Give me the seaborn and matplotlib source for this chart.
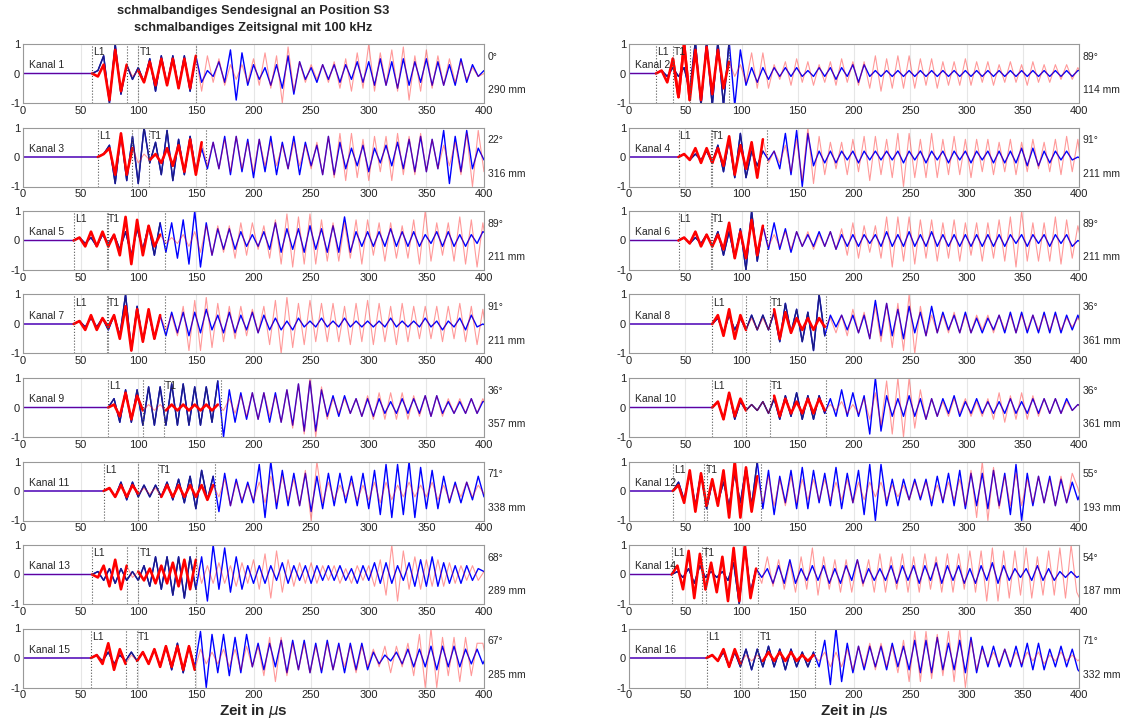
import numpy as np
import seaborn as sns
import matplotlib.pyplot as plt

# channel metadata (times in us)
channels = list(range(1, 17))
l1_times = [60, 24, 65, 44, 44, 44, 44, 74, 74, 74, 70, 39, 60, 38, 59, 69]
t1_times = [100, 39, 109, 73, 73, 73, 73, 125, 122, 125, 117, 67, 100, 65, 99, 115]
angles = ["0°", "89°", "22°", "91°", "89°", "89°", "91°", "36°",
          "36°", "36°", "71°", "55°", "68°", "54°", "67°", "71°"]
distances = ["290 mm", "114 mm", "316 mm", "211 mm", "211 mm", "211 mm", "211 mm", "361 mm",
             "357 mm", "361 mm", "338 mm", "193 mm", "289 mm", "187 mm", "285 mm", "332 mm"]

# peak values, one every 5 us starting at L1 (blue = received, red = reference)
blue_01 = [0, 0.1, 0.6, -1.0, 1.0, -0.7, 0.3, -0.2, 0.2, -0.3,
           0.5, -0.6, 0.6, -0.4, 0.6, -0.5, 0.6, -0.6, 0.6, -0.3,
           0.1, -0.1, 0.4, -0.3, 0.8, -0.9, 0.7, -0.4, 0.3, -0.2,
           0.2, -0.4, 0.3, -0.5, 0.6, -0.7, 0.4, -0.2, 0.2, -0.3,
           0.3, -0.2, 0.3, -0.3, 0.3, -0.2, 0.4, -0.3, 0.4, -0.4,
           0.5, -0.4, 0.4, -0.5, 0.5, -0.4, 0.4, -0.3, 0.5, -0.4,
           0.4, -0.4, 0.3, -0.4, 0.5, -0.3, 0.3, -0.1, 0.1]
red_01 = [0, -0.1, 0.3, -0.9, 0.8, -0.6, 0.3, -0.1, 0.1, -0.3,
          0.4, -0.4, 0.5, -0.4, 0.5, -0.5, 0.5, -0.5, 0.6, -0.6,
          0.6, -0.3, 0.5, -0.4, 0.3, -0.2, 0.3, -0.3, 0.5, -0.4,
          0.7, -0.5, 0.6, -1.0, 0.9, -0.6, 0.4, -0.3, 0.3, -0.2,
          0.3, -0.3, 0.4, -0.5, 0.5, -0.6, 0.7, -0.5, 1.0, -0.6,
          0.7, -0.4, 0.8, -0.6, 0.9, -0.9, 0.6, -0.6, 0.8, -0.5,
          0.6, -0.4, 0.5, -0.3, 0.4, -0.2, 0.2, -0.1, 0.0]

blue_02 = [0, 0.1, -0.1, 0.2, -0.1, 0.2, -0.6, 1.1, -1.1, 1.1,
           -1.1, 1.1, -1.1, 1.1, -1.1, 0.8, -0.4, 0.2, -0.3, 0.2,
           -0.2, 0.2, -0.1, 0.2, -0.1, 0.2, -0.1, 0.1, -0.1, 0.2,
           -0.1, 0.2, -0.2, 0.2, -0.1, 0.3, -0.3, 0.3, -0.1, 0.1,
           -0.1, 0.1, -0.1, 0.1, -0.1, 0.1, -0.1, 0.1, -0.1, 0.1,
           -0.1, 0.1, -0.1, 0.1, -0.1, 0.1, -0.1, 0.1, -0.1, 0.1,
           -0.1, 0.1, -0.1, 0.1, -0.1, 0.1, -0.1, 0.1, -0.1, 0.1,
           -0.1, 0.1, -0.1, 0.1, -0.1, 0.1, 0.1]
red_02 = [0, 0.1, -0.3, 0.5, -0.8, 1.0, -0.9, 0.8, -0.9, 0.9,
          -0.7, 0.8, -0.5, 0.4, -0.1, 0.3, -0.3, 0.7, -0.5, 0.7,
          -0.5, 0.3, -0.2, 0.4, -0.4, 0.5, -0.3, 0.4, -0.4, 0.3,
          -0.3, 0.4, -0.4, 0.5, -0.3, 0.4, -0.4, 0.4, -0.5, 0.6,
          -0.6, 0.5, -0.5, 0.6, -0.5, 0.6, -0.5, 0.5, -0.4, 0.5,
          -0.5, 0.4, -0.4, 0.4, -0.4, 0.5, -0.4, 0.4, -0.3, 0.4,
          -0.4, 0.3, -0.3, 0.4, -0.3, 0.3, -0.4, 0.4, -0.3, 0.3,
          -0.3, 0.3, -0.2, 0.3, -0.2, 0.2, -0.2]

blue_03 = [0, 0.1, 0.4, -0.9, 0.8, -0.8, 0.7, -0.9, 1.0, -0.2,
           0.5, -0.6, 0.9, -0.8, 0.6, -0.6, 0.7, -0.5, 0.3, -0.4,
           0.5, -0.4, 0.7, -0.6, 0.7, -0.5, 0.6, -0.7, 0.6, -0.5,
           0.7, -0.6, 0.5, -0.4, 0.7, -0.6, 0.5, -0.3, 0.4, -0.6,
           0.7, -0.6, 0.5, -0.4, 0.3, -0.3, 0.4, -0.5, 0.3, -0.2,
           0.4, -0.3, 0.5, -0.4, 0.6, -0.5, 0.7, -0.5, 0.6, -0.4,
           0.9, -0.9, 0.7, -0.5, 0.9, -0.4, 0.3, -0.1]
red_03 = [0, 0.1, 0.3, -0.6, 0.8, -0.6, 0.3, -0.2, 0.1, -0.1,
          0.1, -0.2, 0.3, -0.3, 0.4, -0.5, 0.6, -0.6, 0.5, -0.3,
          0.5, -0.4, 0.6, -0.5, 0.7, -0.4, 0.5, -0.5, 0.6, -0.3,
          0.5, -0.3, 0.4, -0.4, 0.5, -0.3, 0.4, -0.4, 0.5, -0.6,
          0.7, -0.7, 0.8, -0.8, 0.8, -0.7, 0.6, -0.8, 0.7, -0.5,
          0.7, -0.8, 0.8, -0.6, 0.7, -0.6, 0.8, -0.5, 0.6, -0.4,
          0.4, -0.3, 0.5, -0.6, 0.8, -1.0, 0.9, -0.5]

blue_04 = [0, 0.1, -0.1, 0.1, -0.1, 0.2, -0.2, 0.4, -0.5, 0.6,
           -0.7, 0.8, -0.7, 0.2, -0.3, 0.2, -0.1, 0.2, -0.4, 0.8,
           -0.6, 0.9, -1.0, 0.8, -0.3, 0.2, -0.2, 0.2, -0.2, 0.2,
           -0.1, 0.2, -0.2, 0.2, -0.1, 0.2, -0.1, 0.2, -0.1, 0.2,
           -0.2, 0.2, -0.1, 0.2, -0.2, 0.2, -0.1, 0.2, -0.2, 0.2,
           -0.1, 0.2, -0.2, 0.2, -0.1, 0.2, -0.2, 0.2, -0.2, 0.2,
           -0.2, 0.3, -0.3, 0.3, -0.3, 0.2, -0.2, 0.2, -0.1, 0.2,
           -0.1, 0.0, -0.1]
red_04 = [0, 0.1, -0.1, 0.3, -0.2, 0.3, -0.2, 0.3, -0.3, 0.7,
          -0.6, 0.4, -0.4, 0.5, -0.7, 0.6, -0.2, 0.2, -0.2, 0.4,
          -0.5, 0.6, -0.8, 1.0, -0.9, 0.7, -0.6, 0.5, -0.4, 0.5,
          -0.6, 0.6, -0.5, 0.7, -0.8, 0.7, -0.6, 0.6, -0.7, 0.8,
          -1.0, 0.8, -0.7, 0.6, -0.7, 0.8, -0.7, 0.6, -0.6, 0.7,
          -0.6, 0.6, -0.7, 0.6, -0.5, 0.6, -0.6, 0.5, -0.5, 0.6,
          -0.6, 0.5, -0.5, 0.6, -0.4, 0.5, -0.5, 0.6, -0.6, 0.7,
          -0.5, 0.6, -1.0]

blue_05 = [0, 0.1, -0.1, 0.1, -0.2, 0.2, -0.1, 0.2, -0.3, 0.3,
           -0.5, 0.4, -0.3, 0.5, -0.5, 0.6, -0.4, 0.6, -0.6, 0.7,
           -0.8, 1.0, -0.9, 0.6, -0.5, 0.4, -0.3, 0.4, -0.3, 0.3,
           -0.2, 0.2, -0.2, 0.3, -0.3, 0.6, -0.4, 0.4, -0.3, 0.4,
           -0.4, 0.5, -0.3, 0.4, -0.4, 0.5, -0.4, 0.8, -0.4, 0.3,
           -0.2, 0.3, -0.2, 0.3, -0.2, 0.4, -0.2, 0.3, -0.2, 0.3,
           -0.2, 0.2, -0.1, 0.3, -0.2, 0.3, -0.2, 0.2, -0.2, 0.2,
           -0.1, 0.3, 0.2]
red_05 = [0, 0.1, -0.2, 0.3, -0.2, 0.3, -0.2, 0.2, -0.5, 0.8,
          -0.8, 0.7, -0.5, 0.5, -0.2, 0.2, -0.1, 0.1, -0.1, 0.2,
          -0.2, 0.3, -0.4, 0.5, -0.5, 0.5, -0.4, 0.5, -0.6, 0.6,
          -0.5, 0.6, -0.3, 0.5, -0.6, 0.7, -0.8, 0.9, -0.9, 0.8,
          -0.8, 0.9, -0.8, 0.7, -0.7, 0.6, -0.7, 0.6, -0.6, 0.7,
          -0.8, 0.7, -0.5, 0.6, -0.7, 0.6, -0.6, 0.5, -0.6, 0.7,
          -0.8, 1.0, -0.7, 0.6, -0.5, 0.6, -0.7, 0.8, -0.8, 0.7,
          -0.9, 0.6, -0.6]

blue_06 = [0, 0.1, -0.1, 0.1, -0.1, 0.2, -0.2, 0.3, -0.5, 0.3,
           -0.6, 0.4, -1.0, 1.0, -0.7, 0.5, -0.3, 0.6, -0.3, 0.4,
           -0.4, 0.3, -0.2, 0.2, -0.2, 0.3, -0.2, 0.3, -0.3, 0.2,
           -0.2, 0.2, -0.2, 0.2, -0.1, 0.2, -0.2, 0.3, -0.2, 0.2,
           -0.2, 0.3, -0.2, 0.2, -0.2, 0.3, -0.2, 0.2, -0.2, 0.2,
           -0.2, 0.2, -0.2, 0.2, -0.2, 0.2, -0.2, 0.2, -0.2, 0.2,
           -0.1, 0.2, -0.2, 0.2, -0.1, 0.2, -0.2, 0.2, -0.1, 0.2,
           -0.2, 0.0, -0.1]
red_06 = [0, 0.1, -0.1, 0.3, -0.2, 0.2, -0.2, 0.2, -0.3, 0.6,
          -0.6, 0.3, -0.6, 0.7, -0.5, 0.5, -0.2, 0.2, -0.2, 0.3,
          -0.3, 0.3, -0.2, 0.3, -0.3, 0.2, -0.2, 0.3, -0.3, 0.4,
          -0.5, 0.6, -0.6, 0.5, -0.4, 0.5, -0.6, 0.8, -0.9, 0.8,
          -0.7, 0.8, -0.8, 0.7, -0.6, 0.7, -0.7, 0.6, -0.6, 0.7,
          -0.7, 0.6, -0.5, 0.6, -0.7, 0.6, -0.6, 0.7, -0.7, 0.8,
          -0.9, 1.0, -0.7, 0.6, -0.7, 0.6, -0.7, 0.8, -0.8, 0.7,
          -0.6, 0.5, -0.4]

blue_07 = [0, 0.1, -0.1, 0.2, -0.1, 0.2, -0.2, 0.3, -0.4, 1.0,
           -0.9, 0.6, -0.6, 0.4, -0.5, 0.3, -0.4, 0.4, -0.3, 0.4,
           -0.4, 0.4, -0.3, 0.5, -0.2, 0.3, -0.3, 0.4, -0.3, 0.3,
           -0.2, 0.4, -0.3, 0.3, -0.2, 0.2, -0.2, 0.1, -0.2, 0.2,
           -0.1, 0.1, -0.1, 0.2, -0.1, 0.1, -0.1, 0.2, -0.1, 0.1,
           -0.1, 0.1, -0.1, 0.1, -0.1, 0.2, -0.1, 0.1, -0.1, 0.1,
           -0.1, 0.2, -0.1, 0.1, -0.2, 0.1, -0.1, 0.2, -0.2, 0.3,
           -0.1, 0.0, -0.1]
red_07 = [0, 0.1, -0.2, 0.3, -0.2, 0.2, -0.1, 0.3, -0.5, 0.6,
          -0.9, 0.5, -0.6, 0.5, -0.5, 0.3, -0.2, 0.3, -0.4, 0.6,
          -0.9, 0.8, -0.9, 0.9, -0.8, 0.7, -0.6, 0.6, -0.5, 0.6,
          -0.4, 0.5, -0.3, 0.6, -0.7, 0.8, -1.0, 0.9, -0.8, 0.7,
          -0.7, 0.8, -0.6, 0.7, -0.6, 0.7, -0.6, 0.6, -0.7, 0.7,
          -0.6, 0.8, -0.7, 0.7, -0.6, 0.6, -0.7, 0.7, -0.6, 0.6,
          -0.5, 0.6, -0.5, 0.6, -0.6, 0.6, -0.5, 0.7, -0.6, 0.6,
          -0.7, 0.5, -0.9]

blue_08 = [0, 0.2, -0.3, 0.3, -0.2, 0.2, -0.2, 0.3, -0.2, 0.3,
           -0.2, 0.4, -0.6, 0.7, -0.3, 0.5, -0.6, 0.4, -0.9, 1.0,
           -0.4, 0.3, -0.1, 0.3, -0.2, 0.3, -0.3, 0.3, -0.5, 0.8,
           -0.4, 0.7, -0.4, 0.5, -0.5, 0.6, -0.3, 0.4, -0.4, 0.6,
           -0.3, 0.4, -0.2, 0.3, -0.3, 0.4, -0.3, 0.2, -0.3, 0.2,
           -0.2, 0.3, -0.3, 0.4, -0.3, 0.4, -0.3, 0.3, -0.3, 0.4,
           -0.3, 0.4, -0.3, 0.3, -0.2, 0.3, -0.2]
red_08 = [0, 0.3, -0.4, 0.5, -0.5, 0.3, -0.2, 0.2, -0.2, 0.2,
          -0.2, 0.5, -0.5, 0.4, -0.3, 0.2, -0.2, 0.2, -0.2, 0.2,
          -0.1, 0.2, -0.3, 0.3, -0.4, 0.5, -0.3, 0.4, -0.5, 0.6,
          -0.6, 0.7, -0.8, 0.7, -0.9, 1.0, -1.0, 0.6, -0.4, 0.3,
          -0.3, 0.3, -0.3, 0.4, -0.3, 0.3, -0.3, 0.3, -0.2, 0.3,
          -0.3, 0.3, -0.2, 0.3, -0.3, 0.3, -0.2, 0.3, -0.2, 0.3,
          -0.2, 0.3, -0.2, 0.2, -0.1, 0.2, -0.1]

blue_09 = [0, 0.3, -0.5, 0.6, -0.5, 0.6, -0.6, 0.7, -0.6, 0.7,
           -0.6, 0.8, -0.6, 0.8, -0.6, 0.7, -0.6, 0.7, -0.5, 0.9,
           -1.0, 0.6, -0.5, 0.5, -0.4, 0.5, -0.4, 0.5, -0.5, 0.5,
           -0.5, 0.6, -0.6, 0.8, -0.8, 0.9, -0.8, 0.6, -0.3, 0.4,
           -0.3, 0.4, -0.2, 0.3, -0.3, 0.3, -0.3, 0.3, -0.2, 0.2,
           -0.2, 0.3, -0.2, 0.3, -0.2, 0.4, -0.3, 0.4, -0.2, 0.2,
           -0.2, 0.2, -0.2, 0.3, -0.2, 0.2, 0.2]
red_09 = [0, 0.1, -0.3, 0.5, -0.4, 0.4, -0.1, 0.1, -0.1, 0.1,
          -0.1, 0.1, -0.1, 0.1, -0.1, 0.1, -0.1, 0.1, -0.1, 0.1,
          -0.1, 0.3, -0.2, 0.4, -0.3, 0.5, -0.4, 0.5, -0.3, 0.4,
          -0.5, 0.6, -0.7, 0.8, -0.9, 1.0, -1.0, 0.7, -0.4, 0.3,
          -0.2, 0.3, -0.2, 0.3, -0.3, 0.4, -0.4, 0.5, -0.4, 0.5,
          -0.4, 0.5, -0.4, 0.4, -0.3, 0.4, -0.3, 0.4, -0.3, 0.3,
          -0.2, 0.3, -0.2, 0.3, -0.2, 0.3, -0.2]

blue_10 = [0, 0.2, -0.4, 0.5, -0.4, 0.2, -0.1, 0.1, -0.1, 0.2,
           -0.2, 0.3, -0.4, 0.4, -0.3, 0.5, -0.4, 0.4, -0.4, 0.4,
           -0.2, 0.3, -0.3, 0.6, -0.3, 0.5, -0.3, 0.4, -0.9, 1.0,
           -0.8, 0.4, -0.3, 0.3, -0.3, 0.4, -0.3, 0.3, -0.4, 0.3,
           -0.3, 0.3, -0.2, 0.4, -0.3, 0.2, -0.2, 0.3, -0.2, 0.2,
           -0.2, 0.2, -0.2, 0.3, -0.2, 0.2, -0.2, 0.3, -0.2, 0.3,
           -0.2, 0.3, -0.2, 0.3, -0.1, 0.1, 0.0]
red_10 = [0, 0.2, -0.4, 0.5, -0.3, 0.3, -0.1, 0.1, -0.1, 0.2,
          -0.2, 0.4, -0.3, 0.3, -0.2, 0.2, -0.2, 0.3, -0.2, 0.3,
          -0.1, 0.1, -0.1, 0.2, -0.2, 0.1, -0.2, 0.3, -0.4, 0.5,
          -0.6, 0.9, -0.9, 1.0, -1.0, 1.0, -0.7, 0.6, -0.4, 0.3,
          -0.3, 0.2, -0.3, 0.3, -0.2, 0.3, -0.3, 0.2, -0.3, 0.3,
          -0.4, 0.5, -0.5, 0.4, -0.4, 0.5, -0.4, 0.4, -0.3, 0.3,
          -0.2, 0.3, -0.2, 0.2, -0.1, 0.1, -0.1]

blue_11 = [0, 0.1, -0.2, 0.3, -0.3, 0.3, -0.2, 0.2, -0.2, 0.2,
           -0.2, 0.3, -0.3, 0.4, -0.4, 0.5, -0.6, 0.7, -0.3, 0.5,
           -0.7, 0.6, -0.5, 0.4, -0.4, 0.3, -0.4, 0.9, -0.9, 1.0,
           -0.6, 0.7, -0.5, 0.6, -0.5, 0.6, -0.7, 0.5, -0.6, 0.6,
           -0.5, 0.6, -0.4, 0.5, -0.5, 0.6, -0.6, 0.7, -0.8, 0.9,
           -0.9, 0.9, -0.8, 1.0, -0.9, 0.8, -0.6, 0.7, -0.6, 0.5,
           -0.4, 0.3, -0.4, 0.3, -0.3, 0.5, -0.2]
red_11 = [0, 0.1, -0.2, 0.2, -0.2, 0.2, -0.1, 0.1, -0.1, 0.1,
          -0.2, 0.2, -0.2, 0.2, -0.2, 0.2, -0.2, 0.2, -0.3, 0.2,
          -0.2, 0.4, -0.5, 0.3, -0.3, 0.2, -0.3, 0.3, -0.4, 0.5,
          -0.4, 0.5, -0.3, 0.4, -0.5, 0.7, -1.0, 1.0, -0.4, 0.3,
          -0.3, 0.2, -0.2, 0.3, -0.3, 0.2, -0.3, 0.3, -0.4, 0.3,
          -0.3, 0.2, -0.2, 0.3, -0.2, 0.2, -0.2, 0.3, -0.3, 0.2,
          -0.3, 0.2, -0.2, 0.3, -0.2, 0.2, -0.1]

blue_12 = [0, 0.3, -0.3, 0.6, -0.5, 0.6, -0.6, 0.3, -0.4, 0.3,
           -0.5, 0.6, -0.4, 0.8, -0.5, 1.0, -0.6, 0.7, -0.8, 0.5,
           -0.4, 0.7, -0.6, 0.8, -0.6, 0.7, -0.4, 0.6, -0.5, 0.8,
           -0.6, 0.6, -0.4, 0.7, -0.8, 0.9, -1.0, 0.9, -0.5, 0.4,
           -0.5, 0.4, -0.3, 0.4, -0.3, 0.4, -0.5, 0.5, -0.4, 0.6,
           -0.5, 0.7, -0.6, 0.6, -0.5, 0.6, -0.6, 0.7, -0.5, 0.6,
           -0.8, 0.9, -1.0, 0.6, -0.5, 0.5, -0.4, 0.5, -0.5, 0.4,
           -0.4, 0.3, -0.3, 0.2]
red_12 = [0, 0.2, -0.4, 0.7, -0.7, 0.6, -0.5, 0.4, -0.5, 0.7,
          -0.9, 1.0, -0.9, 0.8, -0.7, 0.5, -0.4, 0.5, -0.5, 0.4,
          -0.5, 0.5, -0.4, 0.4, -0.3, 0.4, -0.3, 0.4, -0.3, 0.3,
          -0.3, 0.4, -0.4, 0.3, -0.3, 0.3, -0.2, 0.3, -0.3, 0.2,
          -0.2, 0.2, -0.3, 0.3, -0.2, 0.3, -0.3, 0.2, -0.3, 0.3,
          -0.3, 0.4, -0.5, 0.7, -0.9, 1.0, -1.0, 0.8, -0.6, 0.5,
          -0.5, 0.6, -0.5, 0.4, -0.4, 0.5, -0.4, 0.4, -0.5, 0.5,
          -0.4, 0.6, 0.1, -0.6]

blue_13 = [0, 0.1, -0.2, 0.2, -0.3, 0.2, -0.2, 0.1, -0.2, 0.3,
           -0.4, 0.6, -0.5, 0.6, -0.7, 0.6, -0.8, 0.6, -0.5, 0.6,
           -0.9, 1.0, -0.5, 0.9, -0.6, 0.6, -0.5, 0.3, -0.3, 0.3,
           -0.3, 0.3, -0.2, 0.4, -0.3, 0.3, -0.2, 0.3, -0.3, 0.3,
           -0.2, 0.3, -0.2, 0.3, -0.2, 0.2, -0.3, 0.3, -0.2, 0.4,
           -0.3, 0.4, -0.3, 0.3, -0.2, 0.4, -0.4, 0.5, -0.4, 0.6,
           -0.4, 0.4, -0.3, 0.3, -0.3, 0.3, -0.2, 0.2, 0.1]
red_13 = [0, -0.1, 0.3, -0.4, 0.5, -0.5, 0.3, -0.1, 0.1, -0.2,
          0.2, -0.3, 0.3, -0.3, 0.4, -0.4, 0.5, -0.5, 0.5, -0.3,
          0.3, -0.3, 0.4, -0.3, 0.3, -0.4, 0.4, -0.3, 0.5, -0.5,
          0.7, -0.8, 0.8, -0.6, 0.5, -0.4, 0.4, -0.3, 0.4, -0.3,
          0.3, -0.2, 0.3, -0.3, 0.2, -0.3, 0.3, -0.2, 0.3, -0.4,
          0.5, -0.7, 1.0, -0.9, 0.8, -0.5, 0.6, -0.5, 0.5, -0.4,
          0.5, -0.4, 0.4, -0.3, 0.3, -0.2, 0.3, -0.2, 0.1]

blue_14 = [0, 0.1, -0.1, 0.2, -0.3, 0.3, -0.1, 0.1, -0.1, 0.1,
           -0.2, 0.4, -1.0, 1.0, -0.6, 0.2, -0.1, 0.2, -0.3, 0.3,
           -0.3, 0.5, -0.3, 0.2, -0.2, 0.3, -0.2, 0.3, -0.3, 0.2,
           -0.3, 0.3, -0.2, 0.5, -0.3, 0.2, -0.2, 0.2, -0.2, 0.3,
           -0.3, 0.3, -0.2, 0.3, -0.3, 0.3, -0.2, 0.4, -0.3, 0.3,
           -0.2, 0.3, -0.3, 0.2, -0.3, 0.3, -0.2, 0.4, -0.3, 0.3,
           -0.2, 0.2, -0.1, 0.2, -0.2, 0.3, -0.2, 0.2, -0.2, 0.1,
           -0.1, 0.1, -0.1, 0.0]
red_14 = [0, 0.3, -0.5, 0.8, -0.8, 0.7, -0.5, 0.4, -0.6, 0.6,
          -0.9, 0.9, -0.9, 1.0, -0.8, 0.2, -0.3, 0.6, -0.4, 0.5,
          -0.5, 0.4, -0.6, 0.6, -0.5, 0.9, -0.7, 0.6, -0.5, 0.5,
          -0.6, 0.5, -0.6, 0.5, -0.4, 0.5, -0.6, 0.7, -0.6, 0.6,
          -0.5, 0.7, -0.6, 0.6, -0.6, 0.7, -0.5, 0.6, -0.6, 0.7,
          -0.6, 0.7, -0.5, 0.8, -0.6, 0.8, -0.9, 0.9, -0.9, 0.8,
          -0.8, 0.8, -0.7, 0.9, -0.8, 0.6, -0.7, 0.8, -0.7, 0.9,
          -0.8, 1.0, -0.6, -1.0]

blue_15 = [0, 0.1, -0.1, 0.2, -0.2, 0.1, -0.1, 0.2, -0.1, 0.2,
           -0.2, 0.3, -0.3, 0.4, -0.4, 0.5, -0.5, 0.4, -0.3, 0.9,
           -1.0, 0.8, -0.5, 0.8, -0.6, 0.7, -0.5, 0.8, -0.3, 0.5,
           -0.4, 0.5, -0.3, 0.6, -0.5, 0.6, -0.4, 0.6, -0.5, 0.5,
           -0.5, 0.6, -0.4, 0.5, -0.5, 0.5, -0.4, 0.5, -0.4, 0.2,
           -0.2, 0.1, -0.1, 0.2, -0.2, 0.3, -0.3, 0.3, -0.3, 0.4,
           -0.4, 0.4, -0.3, 0.4, -0.3, 0.3, -0.2, 0.3, -0.2, 0.2]
red_15 = [0, 0.1, -0.2, 0.5, -0.4, 0.3, -0.2, 0.1, -0.1, 0.2,
          -0.2, 0.3, -0.3, 0.4, -0.3, 0.4, -0.4, 0.4, -0.4, 0.3,
          -0.2, 0.2, -0.2, 0.3, -0.3, 0.3, -0.4, 0.4, -0.3, 0.4,
          -0.6, 0.7, -0.8, 0.7, -0.6, 0.5, -0.4, 0.5, -0.5, 0.4,
          -0.4, 0.5, -0.4, 0.4, -0.3, 0.4, -0.5, 0.4, -0.3, 0.3,
          -0.3, 0.4, -0.5, 0.4, -0.3, 0.5, -0.6, 0.8, -1.0, 1.0,
          -1.0, 0.7, -0.6, 0.7, -0.8, 0.7, -0.6, 0.5, 0.5, -0.5]

blue_16 = [0, 0.1, -0.1, 0.2, -0.3, 0.2, -0.3, 0.3, -0.4, 0.3,
           -0.3, 0.4, -0.3, 0.3, -0.4, 0.3, -0.3, 0.2, -0.3, 0.2,
           -0.3, 0.6, -0.9, 1.0, -0.8, 0.5, -0.5, 0.4, -0.4, 0.4,
           -0.3, 0.4, -0.4, 0.5, -0.3, 0.4, -0.4, 0.6, -0.5, 0.6,
           -0.5, 0.7, -0.4, 0.5, -0.4, 0.6, -0.5, 0.7, -0.5, 0.4,
           -0.3, 0.4, -0.3, 0.3, -0.3, 0.4, -0.3, 0.5, -0.4, 0.5,
           -0.4, 0.3, -0.3, 0.4, -0.3, 0.3, -0.4, -0.6]
red_16 = [0, 0.1, -0.1, 0.3, -0.3, 0.3, -0.2, 0.1, -0.1, 0.1,
          -0.1, 0.2, -0.1, 0.2, -0.1, 0.2, -0.1, 0.1, -0.1, 0.1,
          -0.1, 0.2, -0.3, 0.2, -0.3, 0.3, -0.4, 0.4, -0.3, 0.5,
          -0.4, 0.5, -0.3, 0.4, -0.5, 0.6, -0.8, 0.9, -0.8, 0.9,
          -0.7, 0.8, -0.6, 0.9, -0.8, 1.0, -1.0, 0.6, -0.4, 0.3,
          -0.2, 0.2, -0.2, 0.3, -0.2, 0.2, -0.2, 0.2, -0.1, 0.2,
          -0.2, 0.1, -0.1, 0.2, -0.1, 0.1, -0.1, 0.1]

blue_series = [blue_01, blue_02, blue_03, blue_04, blue_05, blue_06, blue_07, blue_08,
               blue_09, blue_10, blue_11, blue_12, blue_13, blue_14, blue_15, blue_16]
red_series = [red_01, red_02, red_03, red_04, red_05, red_06, red_07, red_08,
              red_09, red_10, red_11, red_12, red_13, red_14, red_15, red_16]

sns.set_style("white")
plt.rcParams['font.family'] = ['Liberation Sans', 'DejaVu Sans']
plt.rcParams['axes.unicode_minus'] = False

fig = plt.figure(figsize=(11.35, 7.2), dpi=100)

W, H = 1135.0, 720.0
col_left = [23, 629]
col_width = [461, 450]


def add_panel(ch):
    i = ch - 1
    col = i % 2
    row = i // 2
    top = 44 + 83.5 * row
    ax = fig.add_axes([col_left[col] / W, 1 - (top + 59) / H, col_width[col] / W, 59 / H])

    l1 = l1_times[i]
    t1 = t1_times[i]
    tb = np.concatenate([[0], l1 + 5 * np.arange(len(blue_series[i]))])
    tr = np.concatenate([[0], l1 + 5 * np.arange(len(red_series[i]))])
    yb = np.concatenate([[0], blue_series[i]])
    yr = np.concatenate([[0], red_series[i]])

    ax.xaxis.grid(True, color='#e6e6e6', lw=0.8)
    ax.set_axisbelow(True)

    # received signal, darker inside the L1..T1 analysis span
    sns.lineplot(x=tb, y=yb, ax=ax, color='#0000ff', lw=1.0,
                 estimator=None, sort=False, legend=False)
    m = (tb >= l1) & (tb <= t1 + 50)
    sns.lineplot(x=tb[m], y=yb[m], ax=ax, color='#1c1c80', lw=1.0,
                 estimator=None, sort=False, legend=False)

    sns.lineplot(x=tr, y=yr, ax=ax, color='red', lw=0.8, alpha=0.4,
                 estimator=None, sort=False, legend=False)
    # the two windows (L1 and T1) drawn bold
    for a, b in [(l1, l1 + 30), (t1, t1 + 50)]:
        m = (tr >= a) & (tr <= b)
        sns.lineplot(x=tr[m], y=yr[m], ax=ax, color='red', lw=1.9,
                     estimator=None, sort=False, legend=False)

    for xv in [l1, l1 + 30, t1, t1 + 50]:
        ax.axvline(xv, color='#555555', ls=':', lw=0.8)

    ax.text(l1 + 1, 0.62, "L1", fontsize=7.5)
    ax.text(t1 + 1, 0.62, "T1", fontsize=7.5)
    ax.text(5, 0.17, f"Kanal {ch}", fontsize=7.5)
    ax.text(1.008, 0.78, angles[i], transform=ax.transAxes, fontsize=7.5, va='center')
    ax.text(1.008, 0.22, distances[i], transform=ax.transAxes, fontsize=7.5, va='center')

    ax.set_xlim(0, 400)
    ax.set_ylim(-1, 1)
    ax.set_xticks(range(0, 401, 50))
    ax.set_yticks([-1, 0, 1])
    ax.tick_params(labelsize=8, direction='in', length=2, pad=2, colors='#222222')
    for s in ax.spines.values():
        s.set_color('#999999')
        s.set_linewidth(0.8)
    ax.set_xlabel("")
    ax.set_ylabel("")
    return ax


for ch in channels:
    add_panel(ch)

fig.text((23 + 484) / 2 / W, 1 - 11 / H, "schmalbandiges Sendesignal an Position S3",
         ha='center', va='center', fontsize=9.3, fontweight='bold')
fig.text((23 + 484) / 2 / W, 1 - 28 / H, "schmalbandiges Zeitsignal mit 100 kHz",
         ha='center', va='center', fontsize=9.3, fontweight='bold')
fig.text((23 + 484) / 2 / W, 1 - 711 / H, r"Zeit in $\mu$s",
         ha='center', va='center', fontsize=11, fontweight='bold')
fig.text((629 + 1079) / 2 / W, 1 - 711 / H, r"Zeit in $\mu$s",
         ha='center', va='center', fontsize=11, fontweight='bold')

fig.savefig("out.png", dpi=100)
